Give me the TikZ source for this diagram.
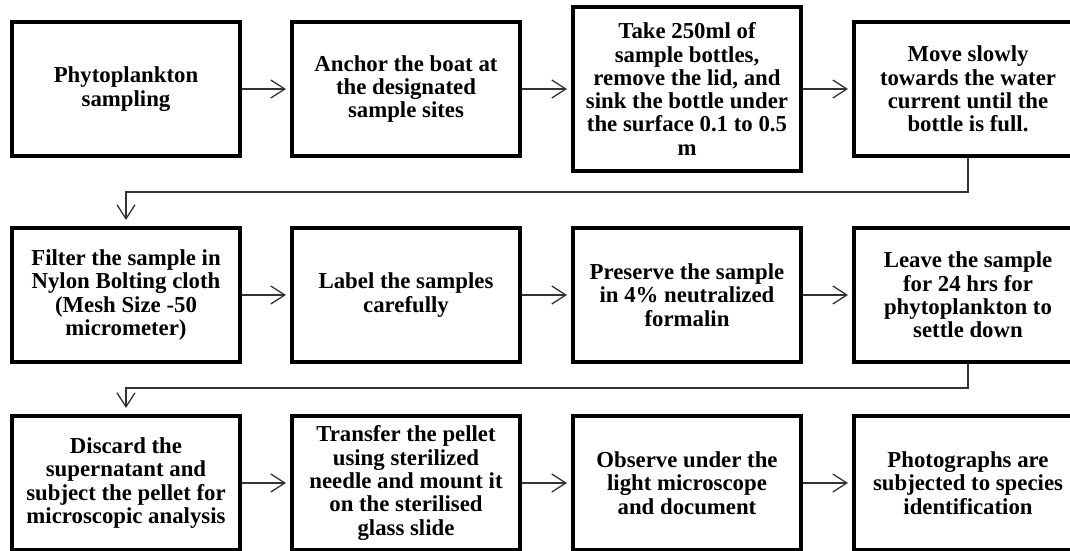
\documentclass[tikz,border=0pt]{standalone}
\usepackage{fontspec}
\setmainfont{Liberation Serif}
\usetikzlibrary{arrows.meta}
\begin{document}
\begin{tikzpicture}[x=1pt,y=-1pt,
  box/.style={draw=black,line width=4pt,minimum width=228pt,minimum height=134pt,
    inner sep=0pt,align=center,
    font=\bfseries\fontsize{22.8}{23.3}\selectfont},
  tallbox/.style={box,minimum height=164pt},
  conn/.style={draw=black!80,line width=1.3pt,
    -{Straight Barb[length=14pt,width=18pt,line width=1.3pt]},shorten >=4pt}
]
\useasboundingbox (0,0) rectangle (1070,551);
\clip (0,0) rectangle (1070,551);
% row 1
\node[box] (b1) at (126,89) {Phytoplankton\\sampling};
\node[box] (b2) at (406,89) {Anchor the boat at\\the designated\\sample sites};
\node[tallbox] (b3) at (687,89) {Take 250ml of\\sample bottles,\\remove the lid, and\\sink the bottle under\\the surface 0.1 to 0.5\\m};
\node[box] (b4) at (968,89) {Move slowly\\towards the water\\current until the\\bottle is full.};
% row 2
\node[box] (b5) at (126,295) {Filter the sample in\\Nylon Bolting cloth\\(Mesh Size -50\\micrometer)};
\node[box] (b6) at (406,295) {Label the samples\\carefully};
\node[box] (b7) at (687,295) {Preserve the sample\\in 4\% neutralized\\formalin};
\node[box] (b8) at (968,295) {Leave the sample\\for 24 hrs for\\phytoplankton to\\settle down};
% row 3
\node[box] (b9) at (126,483) {Discard the\\supernatant and\\subject the pellet for\\microscopic analysis};
\node[box] (b10) at (406,483) {Transfer the pellet\\using sterilized\\needle and mount it\\on the sterilised\\glass slide};
\node[box] (b11) at (687,483) {Observe under the\\light microscope\\and document};
\node[box] (b12) at (968,483) {Photographs are\\subjected to species\\identification};
% connectors
\draw[conn] (b1) -- (b2);
\draw[conn] (b2) -- (b3);
\draw[conn] (b3.east |- b2) -- (b4);
\draw[conn] (b5) -- (b6);
\draw[conn] (b6) -- (b7);
\draw[conn] (b7) -- (b8);
\draw[conn] (b9) -- (b10);
\draw[conn] (b10) -- (b11);
\draw[conn] (b11) -- (b12);
\coordinate (m1) at (0,192);
\coordinate (m2) at (0,388);
\draw[conn,shorten >=6pt] (b4.south) -- (b4.south |- m1) -| (b5.north);
\draw[conn,shorten >=6pt] (b8.south) -- (b8.south |- m2) -| (b9.north);
\end{tikzpicture}
\end{document}
